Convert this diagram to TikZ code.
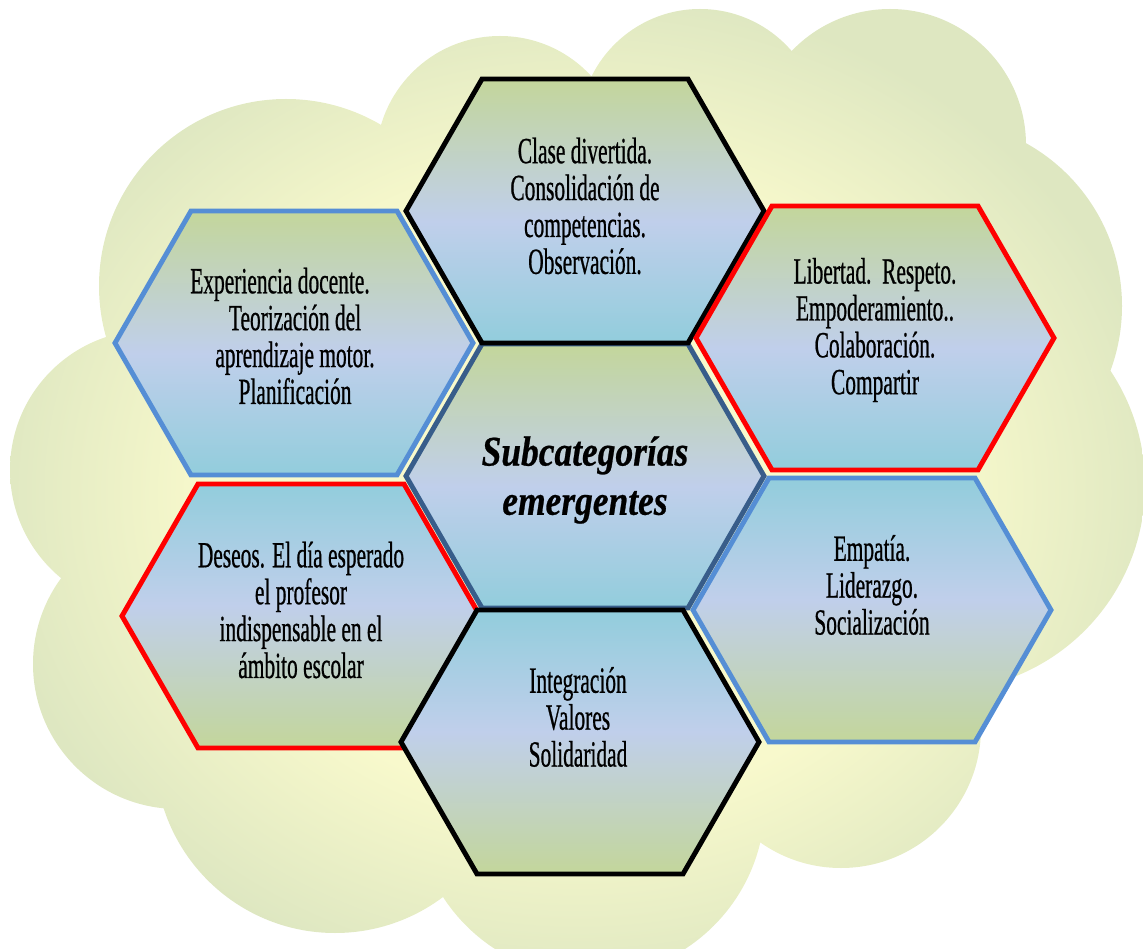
\documentclass[tikz,border=0pt]{standalone}
\usepackage{fontspec}
\setmainfont[FakeStretch=0.58, FakeBold=0.6]{Liberation Serif}
\newfontfamily\titlefont[FakeStretch=0.84, FakeBold=0.6]{Liberation Serif}
\usepackage{xcolor}
\usepackage{tikz}

\definecolor{hexgreen}{RGB}{195,214,155}
\definecolor{hexlav}{RGB}{192,207,235}
\definecolor{hexblue}{RGB}{146,205,220}
\definecolor{cloudin}{RGB}{248,249,204}
\definecolor{cloudout}{RGB}{222,231,193}
\definecolor{hexred}{RGB}{255,0,0}
\definecolor{hexsky}{RGB}{85,142,213}
\definecolor{hexnavy}{RGB}{56,93,138}

\pgfdeclareverticalshading{greentop}{100bp}{color(0bp)=(hexblue); color(25bp)=(hexblue); color(48bp)=(hexlav); color(75bp)=(hexgreen); color(100bp)=(hexgreen)}
\pgfdeclareverticalshading{greenbottom}{100bp}{color(0bp)=(hexgreen); color(25bp)=(hexgreen); color(52bp)=(hexlav); color(75bp)=(hexblue); color(100bp)=(hexblue)}
\pgfdeclareradialshading{cloudfill}{\pgfpoint{0bp}{0bp}}{color(0bp)=(cloudin); color(16bp)=(cloudin); color(26bp)=(cloudout); color(50bp)=(cloudout)}

\tikzset{
  hexbase/.style={line width=2.8pt, line join=miter},
  hexdown/.style={hexbase, shading=greentop},
  hexup/.style={hexbase, shading=greenbottom},
  hextext/.style={align=center, inner sep=0pt, font=\fontsize{21}{21}\selectfont},
  hextitle/.style={align=center, inner sep=0pt, font=\titlefont\bfseries\itshape\fontsize{24}{28}\selectfont}
}

\begin{document}
\begin{tikzpicture}[x=0.02cm, y=-0.02cm]
\useasboundingbox (0,0) rectangle (1143,949);

% cloud
\fill[cloudin] (286,286) -- (500,160) -- (700,130) -- (890,145) -- (936,306) -- (939,485)
  -- (841,728) -- (590,802) -- (335,753) -- (178,664) -- (150,470) -- cycle;
\shade[shading=cloudfill] (286,286) circle (187) (500,160) circle (124)
  (700,130) circle (121) (890,145) circle (136) (936,306) circle (186)
  (939,485) circle (206) (841,728) circle (140) (590,802) circle (175)
  (335,753) circle (180) (178,664) circle (145) (150,470) circle (140);

% hexagons
\shade[hexdown, draw=hexnavy] (585,476) +(-179,0) -- +(-103,-132) -- +(103,-132) -- +(179,0) -- +(103,132) -- +(-103,132) -- cycle;
\shade[hexdown, draw=black] (585,211) +(-179,0) -- +(-103,-132) -- +(103,-132) -- +(179,0) -- +(103,132) -- +(-103,132) -- cycle;
\shade[hexdown, draw=hexsky] (294,343) +(-179,0) -- +(-103,-132) -- +(103,-132) -- +(179,0) -- +(103,132) -- +(-103,132) -- cycle;
\shade[hexdown, draw=hexred] (875,338) +(-179,0) -- +(-103,-132) -- +(103,-132) -- +(179,0) -- +(103,132) -- +(-103,132) -- cycle;
\shade[hexup, draw=hexred] (301,616) +(-179,0) -- +(-103,-132) -- +(103,-132) -- +(179,0) -- +(103,132) -- +(-103,132) -- cycle;
\shade[hexup, draw=hexsky] (872,610) +(-179,0) -- +(-103,-132) -- +(103,-132) -- +(179,0) -- +(103,132) -- +(-103,132) -- cycle;
\shade[hexup, draw=black] (580,742) +(-179,0) -- +(-103,-132) -- +(103,-132) -- +(179,0) -- +(103,132) -- +(-103,132) -- cycle;

% texts
\node[hextitle] (core) at (585,480) {Subcategorías\\emergentes};
\node[hextext] (top) at (585,206) {Clase divertida.\\Consolidación de\\competencias.\\Observación.};
\node[hextext] (topleft) at (295,336) {Experiencia docente.\hspace*{0.6cm}\\Teorización del\\aprendizaje motor.\\Planificación};
\node[hextext] (topright) at (875,330) {Libertad.~~Respeto.\\Empoderamiento..\\Colaboración.\\Compartir};
\node[hextext] (botleft) at (301,610) {Deseos. El día esperado\\el profesor\\indispensable en el\\ámbito escolar};
\node[hextext] (botright) at (872,585) {Empatía.\\Liderazgo.\\Socialización};
\node[hextext] (bottom) at (578,717) {Integración\\Valores\\Solidaridad};
\end{tikzpicture}
\end{document}
